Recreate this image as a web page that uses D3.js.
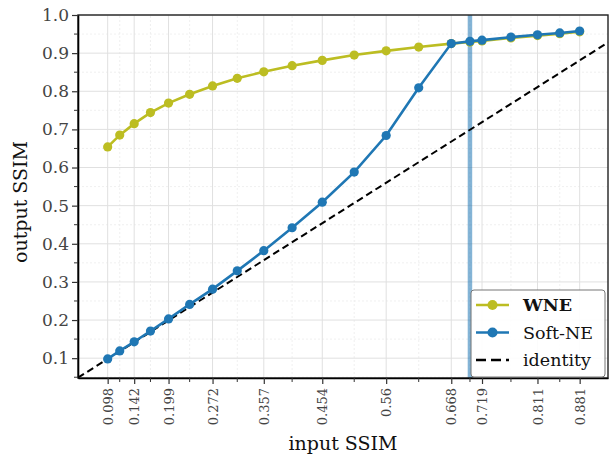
<!DOCTYPE html>
<html><head><meta charset="utf-8">
<script src="https://cdn.jsdelivr.net/npm/d3@7"></script>
<style>body{margin:0;background:#fff}svg{display:block}</style>
</head><body>
<script>
const xValues = [0.098,0.118,0.142,0.169,0.199,0.234,0.272,0.313,0.357,0.404,0.454,0.507,0.56,0.614,0.668,0.699,0.719,0.767,0.811,0.848,0.881];
const wneValues = [0.654,0.685,0.715,0.744,0.769,0.792,0.814,0.834,0.851,0.867,0.881,0.895,0.906,0.916,0.925,0.929,0.932,0.940,0.946,0.951,0.956];
const softNeValues = [0.098,0.119,0.143,0.171,0.203,0.241,0.281,0.329,0.382,0.442,0.509,0.588,0.684,0.809,0.925,0.931,0.934,0.942,0.948,0.953,0.958];
const majorTickLabels = ["0.098","0.142","0.199","0.272","0.357","0.454","0.56","0.668","0.719","0.811","0.881"];
const yTicks = [0.1,0.2,0.3,0.4,0.5,0.6,0.7,0.8,0.9,1.0];
const yMinorTicks = [0.05,0.15,0.25,0.35,0.45,0.55,0.65,0.75,0.85,0.95];
const thresholdX = 0.699;
const identityDomain = [0.0488, 0.928];

const W = 613, H = 462;
const m = {l:78, r:5, t:15, b:84};
const svg = d3.select("body").append("svg").attr("width",W).attr("height",H);
const x = d3.scaleLinear().domain([0.0488,0.928]).range([m.l, W-m.r]);
const y = d3.scaleLinear().domain([0.048,1.0]).range([H-m.b, m.t]);
const font = "DejaVu Serif, serif";

const majorSet = new Set(majorTickLabels.map(Number));
const majorX = xValues.filter(v => majorSet.has(v));
const minorX = xValues.filter(v => !majorSet.has(v));

const g = svg.append("g");
g.selectAll(".gxm").data(minorX).join("line")
  .attr("x1",d=>x(d)).attr("x2",d=>x(d)).attr("y1",y.range()[0]).attr("y2",y.range()[1])
  .attr("stroke","#ececec").attr("stroke-width",0.8).attr("stroke-dasharray","2,2");
g.selectAll(".gym").data(yMinorTicks).join("line")
  .attr("x1",x.range()[0]).attr("x2",x.range()[1]).attr("y1",d=>y(d)).attr("y2",d=>y(d))
  .attr("stroke","#ececec").attr("stroke-width",0.8).attr("stroke-dasharray","2,2");
g.selectAll(".gx").data(majorX).join("line")
  .attr("x1",d=>x(d)).attr("x2",d=>x(d)).attr("y1",y.range()[0]).attr("y2",y.range()[1])
  .attr("stroke","#e0e0e0").attr("stroke-width",1);
g.selectAll(".gy").data(yTicks).join("line")
  .attr("x1",x.range()[0]).attr("x2",x.range()[1]).attr("y1",d=>y(d)).attr("y2",d=>y(d))
  .attr("stroke","#e0e0e0").attr("stroke-width",1);

svg.append("line").attr("x1",x(thresholdX)).attr("x2",x(thresholdX))
  .attr("y1",y.range()[0]).attr("y2",y.range()[1])
  .attr("stroke","#1f77b4").attr("stroke-opacity",0.55).attr("stroke-width",4.5);

svg.append("line").attr("x1",x(identityDomain[0])).attr("y1",y(identityDomain[0]))
  .attr("x2",x(identityDomain[1])).attr("y2",y(identityDomain[1]))
  .attr("stroke","#000").attr("stroke-width",2).attr("stroke-dasharray","7,4");

function series(vals,color){
  const pts = xValues.map((d,i)=>[d,vals[i]]);
  svg.append("path").datum(pts)
    .attr("d",d3.line().x(d=>x(d[0])).y(d=>y(d[1])))
    .attr("fill","none").attr("stroke",color).attr("stroke-width",2.6);
  svg.append("g").selectAll("circle").data(pts).join("circle")
    .attr("cx",d=>x(d[0])).attr("cy",d=>y(d[1])).attr("r",4.6).attr("fill",color);
}
series(wneValues,"#bcbd22");
series(softNeValues,"#1f77b4");

svg.append("rect").attr("x",m.l).attr("y",m.t).attr("width",W-m.r-m.l).attr("height",H-m.b-m.t)
  .attr("fill","none").attr("stroke","#222").attr("stroke-width",1.4);

const xAxis = d3.axisBottom(x).tickValues(majorX).tickFormat((d,i)=>majorTickLabels[i]).tickSize(6).tickSizeOuter(0);
const gx = svg.append("g").attr("transform",`translate(0,${H-m.b})`).call(xAxis);
gx.select(".domain").attr("stroke","#000").attr("stroke-width",1.6);
gx.selectAll(".tick line").attr("stroke","#333").attr("stroke-width",1.2);
gx.selectAll(".tick text").attr("font-family",font).attr("font-size",13).attr("fill","#444")
  .attr("transform","rotate(-90)").attr("text-anchor","end").attr("x",-10).attr("y",0).attr("dy","0.35em");
svg.append("g").attr("transform",`translate(0,${H-m.b})`).selectAll("line").data(minorX).join("line")
  .attr("x1",d=>x(d)).attr("x2",d=>x(d)).attr("y1",0).attr("y2",4).attr("stroke","#333").attr("stroke-width",1);

const yAxis = d3.axisLeft(y).tickValues(yTicks).tickFormat(d3.format(".1f")).tickSize(6).tickSizeOuter(0);
const gy = svg.append("g").attr("transform",`translate(${m.l},0)`).call(yAxis);
gy.select(".domain").attr("stroke","#000").attr("stroke-width",1.6);
gy.selectAll(".tick line").attr("stroke","#333").attr("stroke-width",1.2);
gy.selectAll(".tick text").attr("font-family",font).attr("font-size",17).attr("fill","#444").attr("x",-9);
svg.append("g").attr("transform",`translate(${m.l},0)`).selectAll("line").data(yMinorTicks).join("line")
  .attr("y1",d=>y(d)).attr("y2",d=>y(d)).attr("x1",0).attr("x2",-4).attr("stroke","#333").attr("stroke-width",1);

svg.append("text").attr("x",(m.l+W-m.r)/2).attr("y",450).attr("text-anchor","middle")
  .attr("font-family",font).attr("font-size",19).attr("fill","#111").text("input SSIM");
svg.append("text").attr("transform",`translate(27,202) rotate(-90)`).attr("text-anchor","middle")
  .attr("font-family",font).attr("font-size",19).attr("fill","#111").text("output SSIM");

const lg = svg.append("g").attr("transform","translate(471,290)");
lg.append("rect").attr("width",134).attr("height",87).attr("rx",3)
  .attr("fill","#fff").attr("fill-opacity",0.9).attr("stroke","#777").attr("stroke-width",1);
const items = [{label:"WNE",color:"#bcbd22",bold:true,type:"m"},{label:"Soft-NE",color:"#1f77b4",type:"m"},{label:"identity",color:"#000",type:"d"}];
items.forEach((it,i)=>{
  const yy = 15+i*27.5;
  const row = lg.append("g");
  if(it.type==="m"){
    row.append("line").attr("x1",5).attr("x2",38).attr("y1",yy).attr("y2",yy).attr("stroke",it.color).attr("stroke-width",2.6);
    row.append("circle").attr("cx",21.5).attr("cy",yy).attr("r",5).attr("fill",it.color);
  } else {
    row.append("line").attr("x1",5).attr("x2",38).attr("y1",yy).attr("y2",yy).attr("stroke","#000").attr("stroke-width",2.4).attr("stroke-dasharray","10,5");
  }
  row.append("text").attr("x",52).attr("y",yy).attr("dy","0.35em").attr("font-family",font)
    .attr("font-size",17.5).attr("font-weight",it.bold?"bold":"normal").attr("fill","#111").text(it.label);
});
</script>
</body></html>
